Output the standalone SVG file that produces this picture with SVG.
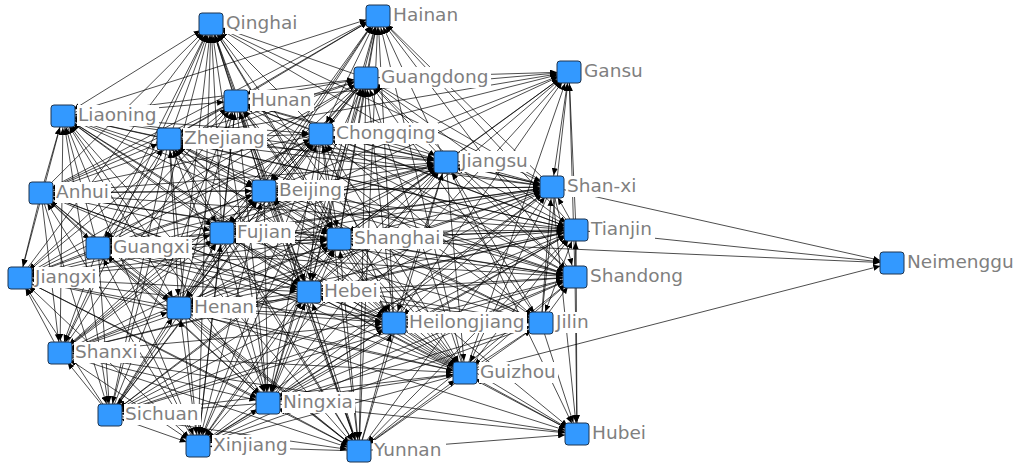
<svg xmlns="http://www.w3.org/2000/svg" width="1024" height="472" viewBox="0 0 1024 472">
<style>
#edges path{stroke:#000;stroke-width:.7;fill:none;marker-end:url(#ar)}
#edges path.b{marker-start:url(#ar)}
.nd{fill:#3399ff;stroke:#1e3550;stroke-width:1}
.lb{fill:#fff}
text{font-family:"DejaVu Sans",Verdana,sans-serif;font-size:18.5px;fill:#7f7f7f}
</style>
<defs>
<marker id="ar" viewBox="0 0 7 6" refX="19" refY="3" markerWidth="7" markerHeight="6" markerUnits="userSpaceOnUse" orient="auto-start-reverse"><path d="M0,0L7,3L0,6z" fill="#000"/></marker>
</defs>
<rect width="1024" height="472" fill="#fff"/>
<g id="edges">
<path d="M366 78L211 24"/>
<path d="M236 101L211 24"/>
<path class="b" d="M63 116L211 24"/>
<path d="M169 139L211 24"/>
<path d="M321 134L211 24"/>
<path class="b" d="M446 162L211 24"/>
<path d="M41 193L211 24"/>
<path d="M264 191L211 24"/>
<path class="b" d="M552 187L211 24"/>
<path d="M222 233L211 24"/>
<path class="b" d="M339 239L211 24"/>
<path d="M98 248L211 24"/>
<path d="M20 278L211 24"/>
<path d="M309 292L211 24"/>
<path d="M179 308L211 24"/>
<path class="b" d="M394 323L211 24"/>
<path d="M60 353L211 24"/>
<path class="b" d="M465 373L211 24"/>
<path d="M268 403L211 24"/>
<path d="M110 415L211 24"/>
<path class="b" d="M198 446L211 24"/>
<path d="M359 451L211 24"/>
<path d="M366 78L378 16"/>
<path class="b" d="M236 101L378 16"/>
<path d="M63 116L378 16"/>
<path d="M169 139L378 16"/>
<path class="b" d="M321 134L378 16"/>
<path d="M446 162L378 16"/>
<path d="M41 193L378 16"/>
<path class="b" d="M264 191L378 16"/>
<path d="M552 187L378 16"/>
<path d="M576 230L378 16"/>
<path class="b" d="M222 233L378 16"/>
<path d="M339 239L378 16"/>
<path d="M575 277L378 16"/>
<path d="M309 292L378 16"/>
<path class="b" d="M179 308L378 16"/>
<path d="M394 323L378 16"/>
<path d="M465 373L378 16"/>
<path d="M268 403L378 16"/>
<path d="M359 451L378 16"/>
<path d="M366 78L236 101"/>
<path d="M63 116L366 78"/>
<path class="b" d="M366 78L169 139"/>
<path d="M366 78L321 134"/>
<path d="M446 162L366 78"/>
<path class="b" d="M366 78L41 193"/>
<path d="M366 78L264 191"/>
<path d="M552 187L366 78"/>
<path class="b" d="M366 78L576 230"/>
<path d="M366 78L222 233"/>
<path d="M339 239L366 78"/>
<path class="b" d="M366 78L98 248"/>
<path d="M366 78L20 278"/>
<path d="M575 277L366 78"/>
<path class="b" d="M366 78L309 292"/>
<path d="M366 78L179 308"/>
<path d="M394 323L366 78"/>
<path class="b" d="M366 78L541 323"/>
<path d="M366 78L60 353"/>
<path d="M465 373L366 78"/>
<path class="b" d="M366 78L268 403"/>
<path d="M366 78L110 415"/>
<path d="M198 446L366 78"/>
<path class="b" d="M366 78L359 451"/>
<path class="b" d="M236 101L63 116"/>
<path d="M236 101L169 139"/>
<path d="M321 134L236 101"/>
<path class="b" d="M236 101L446 162"/>
<path d="M236 101L41 193"/>
<path d="M264 191L236 101"/>
<path class="b" d="M236 101L552 187"/>
<path d="M236 101L576 230"/>
<path d="M222 233L236 101"/>
<path class="b" d="M236 101L339 239"/>
<path d="M236 101L98 248"/>
<path d="M20 278L236 101"/>
<path class="b" d="M236 101L575 277"/>
<path d="M236 101L309 292"/>
<path d="M179 308L236 101"/>
<path class="b" d="M236 101L394 323"/>
<path d="M236 101L541 323"/>
<path d="M60 353L236 101"/>
<path class="b" d="M236 101L465 373"/>
<path d="M236 101L268 403"/>
<path d="M110 415L236 101"/>
<path class="b" d="M236 101L198 446"/>
<path d="M236 101L359 451"/>
<path d="M169 139L63 116"/>
<path class="b" d="M63 116L321 134"/>
<path d="M63 116L446 162"/>
<path d="M41 193L63 116"/>
<path class="b" d="M63 116L264 191"/>
<path d="M63 116L552 187"/>
<path d="M576 230L63 116"/>
<path class="b" d="M63 116L222 233"/>
<path d="M63 116L339 239"/>
<path d="M98 248L63 116"/>
<path class="b" d="M63 116L20 278"/>
<path d="M63 116L575 277"/>
<path d="M309 292L63 116"/>
<path class="b" d="M63 116L179 308"/>
<path d="M63 116L394 323"/>
<path class="b" d="M63 116L60 353"/>
<path d="M63 116L465 373"/>
<path d="M268 403L63 116"/>
<path class="b" d="M63 116L110 415"/>
<path d="M63 116L198 446"/>
<path d="M359 451L63 116"/>
<path d="M169 139L321 134"/>
<path d="M446 162L169 139"/>
<path class="b" d="M169 139L41 193"/>
<path d="M169 139L264 191"/>
<path d="M552 187L169 139"/>
<path class="b" d="M169 139L576 230"/>
<path d="M169 139L222 233"/>
<path d="M339 239L169 139"/>
<path class="b" d="M169 139L98 248"/>
<path d="M169 139L20 278"/>
<path d="M575 277L169 139"/>
<path class="b" d="M169 139L309 292"/>
<path d="M169 139L179 308"/>
<path d="M394 323L169 139"/>
<path class="b" d="M169 139L541 323"/>
<path d="M169 139L60 353"/>
<path d="M465 373L169 139"/>
<path class="b" d="M169 139L268 403"/>
<path d="M169 139L110 415"/>
<path d="M198 446L169 139"/>
<path class="b" d="M169 139L359 451"/>
<path class="b" d="M321 134L446 162"/>
<path d="M321 134L41 193"/>
<path d="M264 191L321 134"/>
<path class="b" d="M321 134L552 187"/>
<path d="M321 134L576 230"/>
<path d="M222 233L321 134"/>
<path class="b" d="M321 134L339 239"/>
<path d="M321 134L98 248"/>
<path d="M20 278L321 134"/>
<path class="b" d="M321 134L575 277"/>
<path d="M321 134L309 292"/>
<path d="M179 308L321 134"/>
<path class="b" d="M321 134L394 323"/>
<path d="M321 134L541 323"/>
<path d="M60 353L321 134"/>
<path class="b" d="M321 134L465 373"/>
<path d="M321 134L268 403"/>
<path d="M110 415L321 134"/>
<path class="b" d="M321 134L198 446"/>
<path d="M321 134L359 451"/>
<path d="M41 193L446 162"/>
<path class="b" d="M446 162L264 191"/>
<path d="M446 162L552 187"/>
<path d="M576 230L446 162"/>
<path class="b" d="M446 162L222 233"/>
<path d="M446 162L339 239"/>
<path d="M98 248L446 162"/>
<path class="b" d="M446 162L20 278"/>
<path d="M446 162L575 277"/>
<path d="M309 292L446 162"/>
<path class="b" d="M446 162L179 308"/>
<path d="M446 162L394 323"/>
<path d="M541 323L446 162"/>
<path class="b" d="M446 162L60 353"/>
<path d="M446 162L465 373"/>
<path d="M268 403L446 162"/>
<path class="b" d="M446 162L110 415"/>
<path d="M446 162L198 446"/>
<path d="M359 451L446 162"/>
<path d="M41 193L264 191"/>
<path d="M552 187L41 193"/>
<path class="b" d="M41 193L576 230"/>
<path d="M41 193L222 233"/>
<path d="M339 239L41 193"/>
<path class="b" d="M41 193L98 248"/>
<path d="M41 193L20 278"/>
<path d="M575 277L41 193"/>
<path class="b" d="M41 193L309 292"/>
<path d="M41 193L179 308"/>
<path d="M394 323L41 193"/>
<path d="M41 193L60 353"/>
<path d="M465 373L41 193"/>
<path class="b" d="M41 193L268 403"/>
<path d="M41 193L110 415"/>
<path d="M198 446L41 193"/>
<path class="b" d="M41 193L359 451"/>
<path class="b" d="M264 191L552 187"/>
<path d="M264 191L576 230"/>
<path d="M222 233L264 191"/>
<path class="b" d="M264 191L339 239"/>
<path d="M264 191L98 248"/>
<path d="M20 278L264 191"/>
<path class="b" d="M264 191L575 277"/>
<path d="M264 191L309 292"/>
<path d="M179 308L264 191"/>
<path class="b" d="M264 191L394 323"/>
<path d="M264 191L541 323"/>
<path d="M60 353L264 191"/>
<path class="b" d="M264 191L465 373"/>
<path d="M264 191L268 403"/>
<path d="M110 415L264 191"/>
<path class="b" d="M264 191L198 446"/>
<path d="M264 191L359 451"/>
<path d="M576 230L552 187"/>
<path class="b" d="M552 187L222 233"/>
<path d="M552 187L339 239"/>
<path d="M98 248L552 187"/>
<path class="b" d="M552 187L20 278"/>
<path d="M552 187L575 277"/>
<path d="M309 292L552 187"/>
<path class="b" d="M552 187L179 308"/>
<path d="M552 187L394 323"/>
<path d="M541 323L552 187"/>
<path class="b" d="M552 187L60 353"/>
<path d="M552 187L465 373"/>
<path d="M268 403L552 187"/>
<path class="b" d="M552 187L110 415"/>
<path d="M552 187L198 446"/>
<path d="M359 451L552 187"/>
<path d="M576 230L222 233"/>
<path d="M339 239L576 230"/>
<path class="b" d="M576 230L98 248"/>
<path d="M576 230L20 278"/>
<path d="M575 277L576 230"/>
<path class="b" d="M576 230L309 292"/>
<path d="M576 230L179 308"/>
<path d="M394 323L576 230"/>
<path class="b" d="M576 230L541 323"/>
<path d="M576 230L60 353"/>
<path d="M465 373L576 230"/>
<path class="b" d="M576 230L268 403"/>
<path d="M576 230L110 415"/>
<path d="M198 446L576 230"/>
<path class="b" d="M576 230L359 451"/>
<path class="b" d="M222 233L339 239"/>
<path d="M222 233L98 248"/>
<path d="M20 278L222 233"/>
<path class="b" d="M222 233L575 277"/>
<path d="M222 233L309 292"/>
<path d="M179 308L222 233"/>
<path class="b" d="M222 233L394 323"/>
<path d="M222 233L541 323"/>
<path d="M60 353L222 233"/>
<path class="b" d="M222 233L465 373"/>
<path d="M222 233L268 403"/>
<path d="M110 415L222 233"/>
<path class="b" d="M222 233L198 446"/>
<path d="M222 233L359 451"/>
<path d="M98 248L339 239"/>
<path class="b" d="M339 239L20 278"/>
<path d="M339 239L575 277"/>
<path d="M309 292L339 239"/>
<path class="b" d="M339 239L179 308"/>
<path d="M339 239L394 323"/>
<path d="M541 323L339 239"/>
<path class="b" d="M339 239L60 353"/>
<path d="M339 239L465 373"/>
<path d="M268 403L339 239"/>
<path class="b" d="M339 239L110 415"/>
<path d="M339 239L198 446"/>
<path d="M359 451L339 239"/>
<path d="M98 248L20 278"/>
<path d="M575 277L98 248"/>
<path class="b" d="M98 248L309 292"/>
<path d="M98 248L179 308"/>
<path d="M394 323L98 248"/>
<path class="b" d="M98 248L541 323"/>
<path d="M98 248L60 353"/>
<path d="M465 373L98 248"/>
<path class="b" d="M98 248L268 403"/>
<path d="M98 248L110 415"/>
<path d="M198 446L98 248"/>
<path class="b" d="M98 248L359 451"/>
<path d="M20 278L309 292"/>
<path d="M179 308L20 278"/>
<path class="b" d="M20 278L394 323"/>
<path d="M60 353L20 278"/>
<path class="b" d="M20 278L465 373"/>
<path d="M20 278L268 403"/>
<path d="M110 415L20 278"/>
<path class="b" d="M20 278L198 446"/>
<path d="M20 278L359 451"/>
<path d="M309 292L575 277"/>
<path class="b" d="M575 277L179 308"/>
<path d="M575 277L394 323"/>
<path d="M541 323L575 277"/>
<path d="M575 277L465 373"/>
<path d="M268 403L575 277"/>
<path class="b" d="M575 277L110 415"/>
<path d="M575 277L198 446"/>
<path d="M359 451L575 277"/>
<path d="M309 292L179 308"/>
<path d="M394 323L309 292"/>
<path class="b" d="M309 292L541 323"/>
<path d="M309 292L60 353"/>
<path d="M465 373L309 292"/>
<path class="b" d="M309 292L268 403"/>
<path d="M309 292L110 415"/>
<path d="M198 446L309 292"/>
<path class="b" d="M309 292L359 451"/>
<path class="b" d="M179 308L394 323"/>
<path d="M179 308L541 323"/>
<path d="M60 353L179 308"/>
<path class="b" d="M179 308L465 373"/>
<path d="M179 308L268 403"/>
<path d="M110 415L179 308"/>
<path class="b" d="M179 308L198 446"/>
<path d="M179 308L359 451"/>
<path d="M541 323L394 323"/>
<path class="b" d="M394 323L60 353"/>
<path d="M394 323L465 373"/>
<path d="M268 403L394 323"/>
<path class="b" d="M394 323L110 415"/>
<path d="M394 323L198 446"/>
<path d="M359 451L394 323"/>
<path d="M465 373L541 323"/>
<path class="b" d="M541 323L268 403"/>
<path d="M198 446L541 323"/>
<path class="b" d="M541 323L359 451"/>
<path class="b" d="M60 353L465 373"/>
<path d="M60 353L268 403"/>
<path d="M110 415L60 353"/>
<path class="b" d="M60 353L198 446"/>
<path d="M60 353L359 451"/>
<path d="M268 403L465 373"/>
<path class="b" d="M465 373L110 415"/>
<path d="M465 373L198 446"/>
<path d="M359 451L465 373"/>
<path d="M268 403L110 415"/>
<path d="M198 446L268 403"/>
<path class="b" d="M268 403L359 451"/>
<path class="b" d="M110 415L198 446"/>
<path d="M110 415L359 451"/>
<path d="M359 451L198 446"/>
<path d="M366 78L569 72"/>
<path d="M236 101L569 72"/>
<path d="M321 134L569 72"/>
<path d="M169 139L569 72"/>
<path d="M264 191L569 72"/>
<path d="M446 162L569 72"/>
<path d="M339 239L569 72"/>
<path d="M222 233L569 72"/>
<path d="M309 292L569 72"/>
<path d="M394 323L569 72"/>
<path d="M465 373L569 72"/>
<path class="b" d="M552 187L569 72"/>
<path d="M576 230L569 72"/>
<path d="M575 277L569 72"/>
<path d="M541 323L569 72"/>
<path d="M268 403L569 72"/>
<path class="b" d="M465 373L577 434"/>
<path d="M394 323L577 434"/>
<path d="M541 323L577 434"/>
<path d="M552 187L577 434"/>
<path d="M576 230L577 434"/>
<path d="M575 277L577 434"/>
<path d="M359 451L577 434"/>
<path d="M268 403L577 434"/>
<path d="M60 353L577 434"/>
<path d="M179 308L577 434"/>
<path d="M309 292L577 434"/>
<path d="M446 162L577 434"/>
<path d="M339 239L577 434"/>
<path d="M552 187L892 263"/>
<path d="M576 230L892 263"/>
<path d="M339 239L892 263"/>
<path d="M465 373L892 263"/>
</g>
<g id="n-qinghai"><rect class="lb" x="225" y="13" width="75" height="21"/><rect class="nd" x="199" y="13" width="24" height="22" rx="3"/><text x="226" y="29">Qinghai</text></g>
<g id="n-hainan"><rect class="lb" x="392" y="5" width="69" height="21"/><rect class="nd" x="366" y="5" width="24" height="22" rx="3"/><text x="393" y="21">Hainan</text></g>
<g id="n-guangdong"><rect class="lb" x="380" y="67" width="111" height="21"/><rect class="nd" x="354" y="67" width="24" height="22" rx="3"/><text x="381" y="83">Guangdong</text></g>
<g id="n-gansu"><rect class="lb" x="583" y="61" width="62" height="21"/><rect class="nd" x="557" y="61" width="24" height="22" rx="3"/><text x="584" y="77">Gansu</text></g>
<g id="n-hunan"><rect class="lb" x="250" y="90" width="64" height="21"/><rect class="nd" x="224" y="90" width="24" height="22" rx="3"/><text x="251" y="106">Hunan</text></g>
<g id="n-liaoning"><rect class="lb" x="77" y="105" width="82" height="21"/><rect class="nd" x="51" y="105" width="24" height="22" rx="3"/><text x="78" y="121">Liaoning</text></g>
<g id="n-zhejiang"><rect class="lb" x="183" y="128" width="84" height="21"/><rect class="nd" x="157" y="128" width="24" height="22" rx="3"/><text x="184" y="144">Zhejiang</text></g>
<g id="n-chongqing"><rect class="lb" x="335" y="123" width="103" height="21"/><rect class="nd" x="309" y="123" width="24" height="22" rx="3"/><text x="336" y="139">Chongqing</text></g>
<g id="n-jiangsu"><rect class="lb" x="460" y="151" width="70" height="21"/><rect class="nd" x="434" y="151" width="24" height="22" rx="3"/><text x="461" y="167">Jiangsu</text></g>
<g id="n-anhui"><rect class="lb" x="55" y="182" width="56" height="21"/><rect class="nd" x="29" y="182" width="24" height="22" rx="3"/><text x="56" y="198">Anhui</text></g>
<g id="n-beijing"><rect class="lb" x="278" y="180" width="66" height="21"/><rect class="nd" x="252" y="180" width="24" height="22" rx="3"/><text x="279" y="196">Beijing</text></g>
<g id="n-shan-xi"><rect class="lb" x="566" y="176" width="72" height="21"/><rect class="nd" x="540" y="176" width="24" height="22" rx="3"/><text x="567" y="192">Shan-xi</text></g>
<g id="n-tianjin"><rect class="lb" x="590" y="219" width="65" height="21"/><rect class="nd" x="564" y="219" width="24" height="22" rx="3"/><text x="591" y="235">Tianjin</text></g>
<g id="n-fujian"><rect class="lb" x="236" y="222" width="59" height="21"/><rect class="nd" x="210" y="222" width="24" height="22" rx="3"/><text x="237" y="238">Fujian</text></g>
<g id="n-shanghai"><rect class="lb" x="353" y="228" width="90" height="21"/><rect class="nd" x="327" y="228" width="24" height="22" rx="3"/><text x="354" y="244">Shanghai</text></g>
<g id="n-guangxi"><rect class="lb" x="112" y="237" width="80" height="21"/><rect class="nd" x="86" y="237" width="24" height="22" rx="3"/><text x="113" y="253">Guangxi</text></g>
<g id="n-jiangxi"><rect class="lb" x="34" y="267" width="65" height="21"/><rect class="nd" x="8" y="267" width="24" height="22" rx="3"/><text x="35" y="283">Jiangxi</text></g>
<g id="n-shandong"><rect class="lb" x="589" y="266" width="96" height="21"/><rect class="nd" x="563" y="266" width="24" height="22" rx="3"/><text x="590" y="282">Shandong</text></g>
<g id="n-neimenggu"><rect class="lb" x="906" y="252" width="110" height="21"/><rect class="nd" x="880" y="252" width="24" height="22" rx="3"/><text x="907" y="268">Neimenggu</text></g>
<g id="n-hebei"><rect class="lb" x="323" y="281" width="57" height="21"/><rect class="nd" x="297" y="281" width="24" height="22" rx="3"/><text x="324" y="297">Hebei</text></g>
<g id="n-henan"><rect class="lb" x="193" y="297" width="63" height="21"/><rect class="nd" x="167" y="297" width="24" height="22" rx="3"/><text x="194" y="313">Henan</text></g>
<g id="n-heilongjiang"><rect class="lb" x="408" y="312" width="119" height="21"/><rect class="nd" x="382" y="312" width="24" height="22" rx="3"/><text x="409" y="328">Heilongjiang</text></g>
<g id="n-jilin"><rect class="lb" x="555" y="312" width="36" height="21"/><rect class="nd" x="529" y="312" width="24" height="22" rx="3"/><text x="556" y="328">Jilin</text></g>
<g id="n-shanxi"><rect class="lb" x="74" y="342" width="66" height="21"/><rect class="nd" x="48" y="342" width="24" height="22" rx="3"/><text x="75" y="358">Shanxi</text></g>
<g id="n-guizhou"><rect class="lb" x="479" y="362" width="79" height="21"/><rect class="nd" x="453" y="362" width="24" height="22" rx="3"/><text x="480" y="378">Guizhou</text></g>
<g id="n-ningxia"><rect class="lb" x="282" y="392" width="73" height="21"/><rect class="nd" x="256" y="392" width="24" height="22" rx="3"/><text x="283" y="408">Ningxia</text></g>
<g id="n-sichuan"><rect class="lb" x="124" y="404" width="77" height="21"/><rect class="nd" x="98" y="404" width="24" height="22" rx="3"/><text x="125" y="420">Sichuan</text></g>
<g id="n-xinjiang"><rect class="lb" x="212" y="435" width="78" height="21"/><rect class="nd" x="186" y="435" width="24" height="22" rx="3"/><text x="213" y="451">Xinjiang</text></g>
<g id="n-yunnan"><rect class="lb" x="373" y="440" width="73" height="21"/><rect class="nd" x="347" y="440" width="24" height="22" rx="3"/><text x="374" y="456">Yunnan</text></g>
<g id="n-hubei"><rect class="lb" x="591" y="423" width="57" height="21"/><rect class="nd" x="565" y="423" width="24" height="22" rx="3"/><text x="592" y="439">Hubei</text></g>
</svg>
